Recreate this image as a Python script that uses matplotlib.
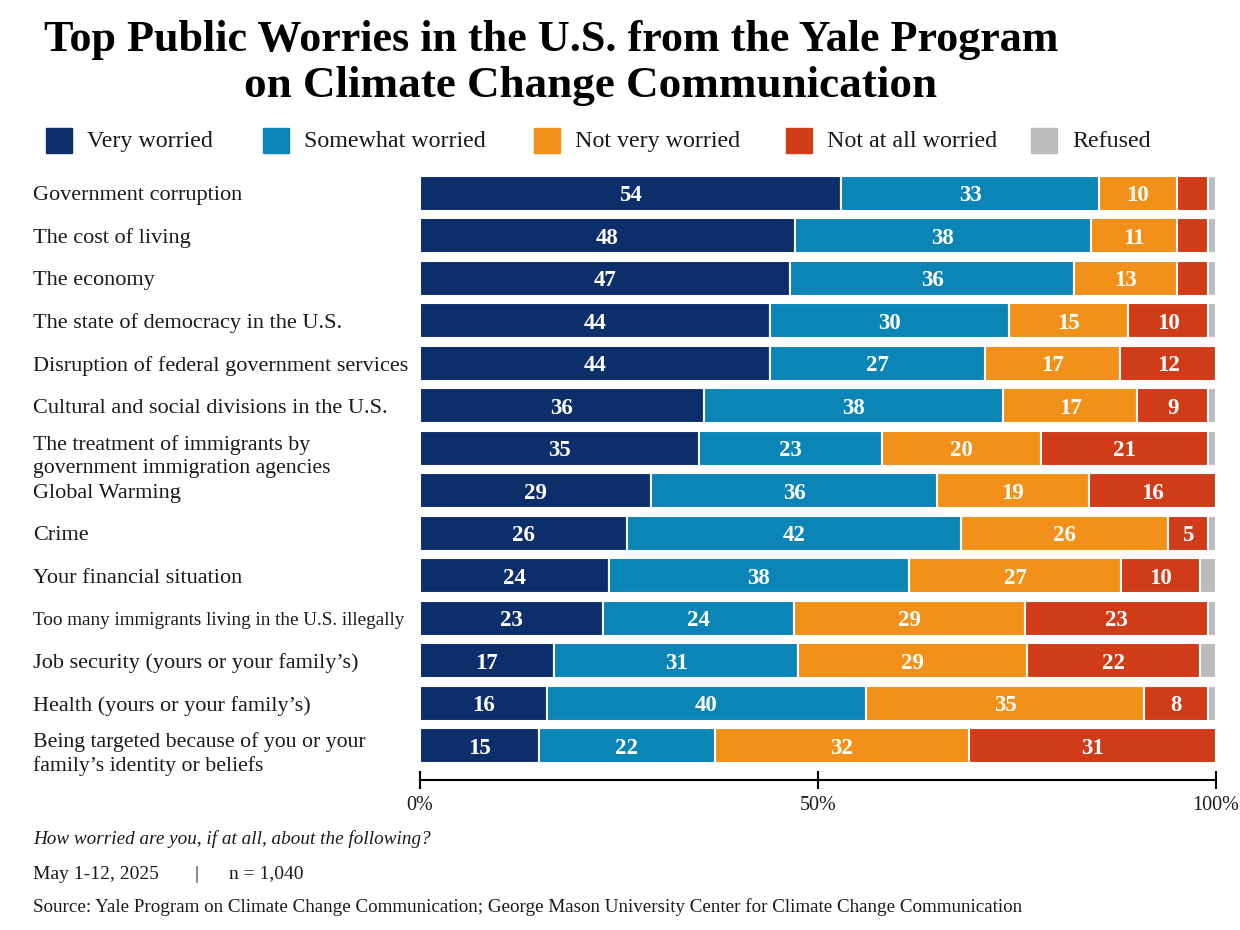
import numpy as np
import matplotlib.pyplot as plt
import matplotlib.transforms as mtransforms
from matplotlib.patches import Rectangle

plt.rcParams['font.family'] = ['Liberation Serif', 'DejaVu Serif']

categories = [
    "Government corruption",
    "The cost of living",
    "The economy",
    "The state of democracy in the U.S.",
    "Disruption of federal government services",
    "Cultural and social divisions in the U.S.",
    "The treatment of immigrants by\ngovernment immigration agencies",
    "Global Warming",
    "Crime",
    "Your financial situation",
    "Too many immigrants living in the U.S. illegally",
    "Job security (yours or your family\u2019s)",
    "Health (yours or your family\u2019s)",
    "Being targeted because of you or your\nfamily\u2019s identity or beliefs",
]
very = [54, 48, 47, 44, 44, 36, 35, 29, 26, 24, 23, 17, 16, 15]
somewhat = [33, 38, 36, 30, 27, 38, 23, 36, 42, 38, 24, 31, 40, 22]
not_very = [10, 11, 13, 15, 17, 17, 20, 19, 26, 27, 29, 29, 35, 32]
not_at_all = [4, 4, 4, 10, 12, 9, 21, 16, 5, 10, 23, 22, 8, 31]
refused = [1, 1, 1, 1, 0, 1, 1, 0, 1, 2, 1, 2, 1, 0]

series_names = ["Very worried", "Somewhat worried", "Not very worried",
                "Not at all worried", "Refused"]
colors = ["#0c2f6c", "#0b84b6", "#f29119", "#d03c18", "#bcbcbc"]
xticks = [0, 50, 100]
xticklabels = ["0%", "50%", "100%"]

fig = plt.figure(figsize=(12.4, 9.3), dpi=100)
ax = fig.add_axes([420 / 1240, 1 - 780 / 930, 796 / 1240, 608 / 930])

data = np.array([very, somewhat, not_very, not_at_all, refused], dtype=float)
totals = data.sum(axis=0)
shares = data / totals * 100
y = np.arange(len(categories))

left = np.zeros(len(categories))
for i in range(len(series_names)):
    ax.barh(y, shares[i], left=left, height=0.82, color=colors[i],
            edgecolor='white', linewidth=1.5)
    if i < 4:
        for j in range(len(categories)):
            if data[i, j] >= 5:
                ax.text(left[j] + shares[i, j] / 2, y[j], str(int(data[i, j])),
                        ha='center', va='center_baseline', color='white',
                        fontsize=16.5, fontweight='bold')
    left += shares[i]

ax.set_xlim(0, 100)
ax.set_ylim(13.81, -0.5)
ax.set_yticks([])
ax.set_xticks(xticks)
ax.set_xticklabels(xticklabels, fontsize=14.5, color='#1a1a1a')
ax.tick_params(axis='x', direction='inout', length=13, width=1.5, pad=5)
for s in ['top', 'left', 'right']:
    ax.spines[s].set_visible(False)
ax.spines['bottom'].set_linewidth(1.5)

# category labels, left aligned
trans = mtransforms.blended_transform_factory(fig.transFigure, ax.transData)
for j, name in enumerate(categories):
    longest = max(len(part) for part in name.split('\n'))
    size = 13.8 if longest > 45 else 16
    if '\n' in name:
        ax.text(33 / 1240, y[j] + 0.2, name, transform=trans, ha='left',
                va='center', fontsize=15.7, color='#1a1a1a', linespacing=1.25)
    else:
        ax.text(33 / 1240, y[j], name, transform=trans, ha='left',
                va='center_baseline', fontsize=size, color='#1a1a1a')

# title
fig.text(551 / 1240, 1 - 35 / 930, "Top Public Worries in the U.S. from the Yale Program",
         ha='center', va='center_baseline', fontsize=31.8, fontweight='bold')
fig.text(591 / 1240, 1 - 82 / 930, "on Climate Change Communication",
         ha='center', va='center_baseline', fontsize=32.5, fontweight='bold')

# legend
leg_x = [46, 263, 534, 786, 1031]
for xs, name, c in zip(leg_x, series_names, colors):
    fig.patches.append(Rectangle((xs / 1240, 1 - 153 / 930), 26 / 1240, 25 / 930,
                                 transform=fig.transFigure, color=c))
    fig.text((xs + 41) / 1240, 1 - 139 / 930, name, ha='left', va='center_baseline',
             fontsize=17.3, color='#1a1a1a')

# footer
fig.text(33 / 1240, 1 - 837 / 930, "How worried are you, if at all, about the following?",
         ha='left', va='center_baseline', fontsize=13.8, style='italic', color='#1a1a1a')
fig.text(33 / 1240, 1 - 872 / 930, "May 1-12, 2025",
         ha='left', va='center_baseline', fontsize=14, color='#1a1a1a')
fig.text(197 / 1240, 1 - 872 / 930, "|",
         ha='center', va='center_baseline', fontsize=14, color='#1a1a1a')
fig.text(229 / 1240, 1 - 872 / 930, "n = 1,040",
         ha='left', va='center_baseline', fontsize=14, color='#1a1a1a')
fig.text(33 / 1240, 1 - 905 / 930,
         "Source: Yale Program on Climate Change Communication; George Mason University Center for Climate Change Communication",
         ha='left', va='center_baseline', fontsize=13.7, color='#1a1a1a')

fig.savefig('out.png', dpi=100, facecolor='white')
